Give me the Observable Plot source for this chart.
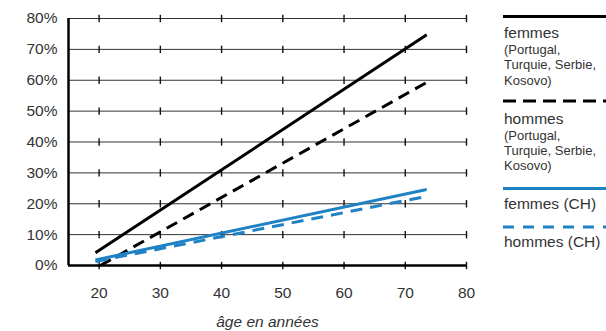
<!DOCTYPE html>
<html><head><meta charset="utf-8">
<script src="https://cdn.jsdelivr.net/npm/d3@7"></script>
<script src="https://cdn.jsdelivr.net/npm/@observablehq/plot@0.6"></script>
<style>
body{margin:0;background:#fff;font-family:"Liberation Sans",Arial,sans-serif;}
#wrap{position:relative;width:606px;height:331px;}
#legend{position:absolute;left:0;top:0;}
</style></head><body><div id="wrap"></div>
<script>
// ----- data -----
const seriesNames = ["femmes (Portugal, Turquie, Serbie, Kosovo)", "hommes (Portugal, Turquie, Serbie, Kosovo)", "femmes (CH)", "hommes (CH)"];
const startAges = [19.4, 20.2, 19.4, 19.4];
const endAges = [73.5, 73.5, 73.5, 73.5];
const startValues = [4.1, 0, 1.8, 1.3];
const endValues = [74.7, 59.3, 24.6, 22.4];
const xTicks = [20, 30, 40, 50, 60, 70, 80];
const yTicks = [0, 10, 20, 30, 40, 50, 60, 70, 80];
const xLabel = "âge en années";
const legendMain = ["femmes", "hommes", "femmes (CH)", "hommes (CH)"];
const legendSub = [["(Portugal,", "Turquie, Serbie,", "Kosovo)"], ["(Portugal,", "Turquie, Serbie,", "Kosovo)"], [], []];

const BLUE = "#1f82c4";
const styles = [
  {stroke: "#000", dash: null},
  {stroke: "#000", dash: "12,7"},
  {stroke: BLUE, dash: null},
  {stroke: BLUE, dash: "12,8"}
];

const rows = seriesNames.flatMap((s, i) => [
  {series: s, age: startAges[i], value: startValues[i]},
  {series: s, age: endAges[i], value: endValues[i]}
]);
const TICK_HALF = 1.2; // half-length of the small grid crossings, in % units
const crosses = [];
for (const x of xTicks) for (const y of yTicks) crosses.push({x: x, y1: y - TICK_HALF, y2: y + TICK_HALF});

const chart = Plot.plot({
  width: 606, height: 331,
  marginLeft: 68, marginRight: 140, marginTop: 18, marginBottom: 66,
  x: {domain: [15, 80]},
  y: {domain: [0, 80]},
  style: {fontFamily: "Liberation Sans, Arial, sans-serif", fontSize: "15.5px", color: "#333", background: "#fff", overflow: "visible"},
  marks: [
    Plot.gridY(yTicks, {stroke: "#333", strokeOpacity: 1, strokeWidth: 1}),
    Plot.link(crosses, {x1: "x", x2: "x", y1: "y1", y2: "y2", stroke: "#111", strokeWidth: 1.4}),
    Plot.axisY(yTicks, {tickSize: 0, tickPadding: 11, tickFormat: d => d + "%", label: null, fontSize: 15.5}),
    Plot.axisX(xTicks, {tickSize: 0, tickPadding: 21, label: null, fontSize: 15.5}),
    ...seriesNames.map((s, i) => Plot.line(rows.filter(r => r.series === s), {
      x: "age", y: "value", stroke: styles[i].stroke, strokeWidth: 3,
      strokeDasharray: styles[i].dash || undefined, strokeLinecap: "butt"
    })),
    Plot.ruleX([15], {stroke: "#000", strokeWidth: 2.5}),
    Plot.ruleY([0], {stroke: "#000", strokeWidth: 2.5}),
    Plot.text([xLabel], {frameAnchor: "bottom", lineAnchor: "bottom", dy: 61, fontStyle: "italic", fontSize: 15.5, fill: "#333"})
  ]
});
document.getElementById("wrap").appendChild(chart);

// ----- legend -----
const lg = d3.select("#wrap").append("svg").attr("id", "legend").attr("width", 606).attr("height", 331)
  .style("font-family", "Liberation Sans, Arial, sans-serif");
const lineYs = [16.5, 101, 188.5, 227];
const mainYs = [38, 123.5, 209, 246.5];
lineYs.forEach((ly, i) => {
  lg.append("line").attr("x1", 503).attr("x2", 606).attr("y1", ly).attr("y2", ly)
    .attr("stroke", styles[i].stroke).attr("stroke-width", 3.2)
    .attr("stroke-dasharray", styles[i].dash ? (i === 1 ? "13,7" : "11,9") : null);
  lg.append("text").attr("x", 504).attr("y", mainYs[i]).attr("font-size", 15.5).attr("fill", "#333").text(legendMain[i]);
  legendSub[i].forEach((t, j) => {
    lg.append("text").attr("x", 504).attr("y", mainYs[i] + 16 + j * 15.3).attr("font-size", 13).attr("fill", "#333").text(t);
  });
});
</script>
</body></html>
